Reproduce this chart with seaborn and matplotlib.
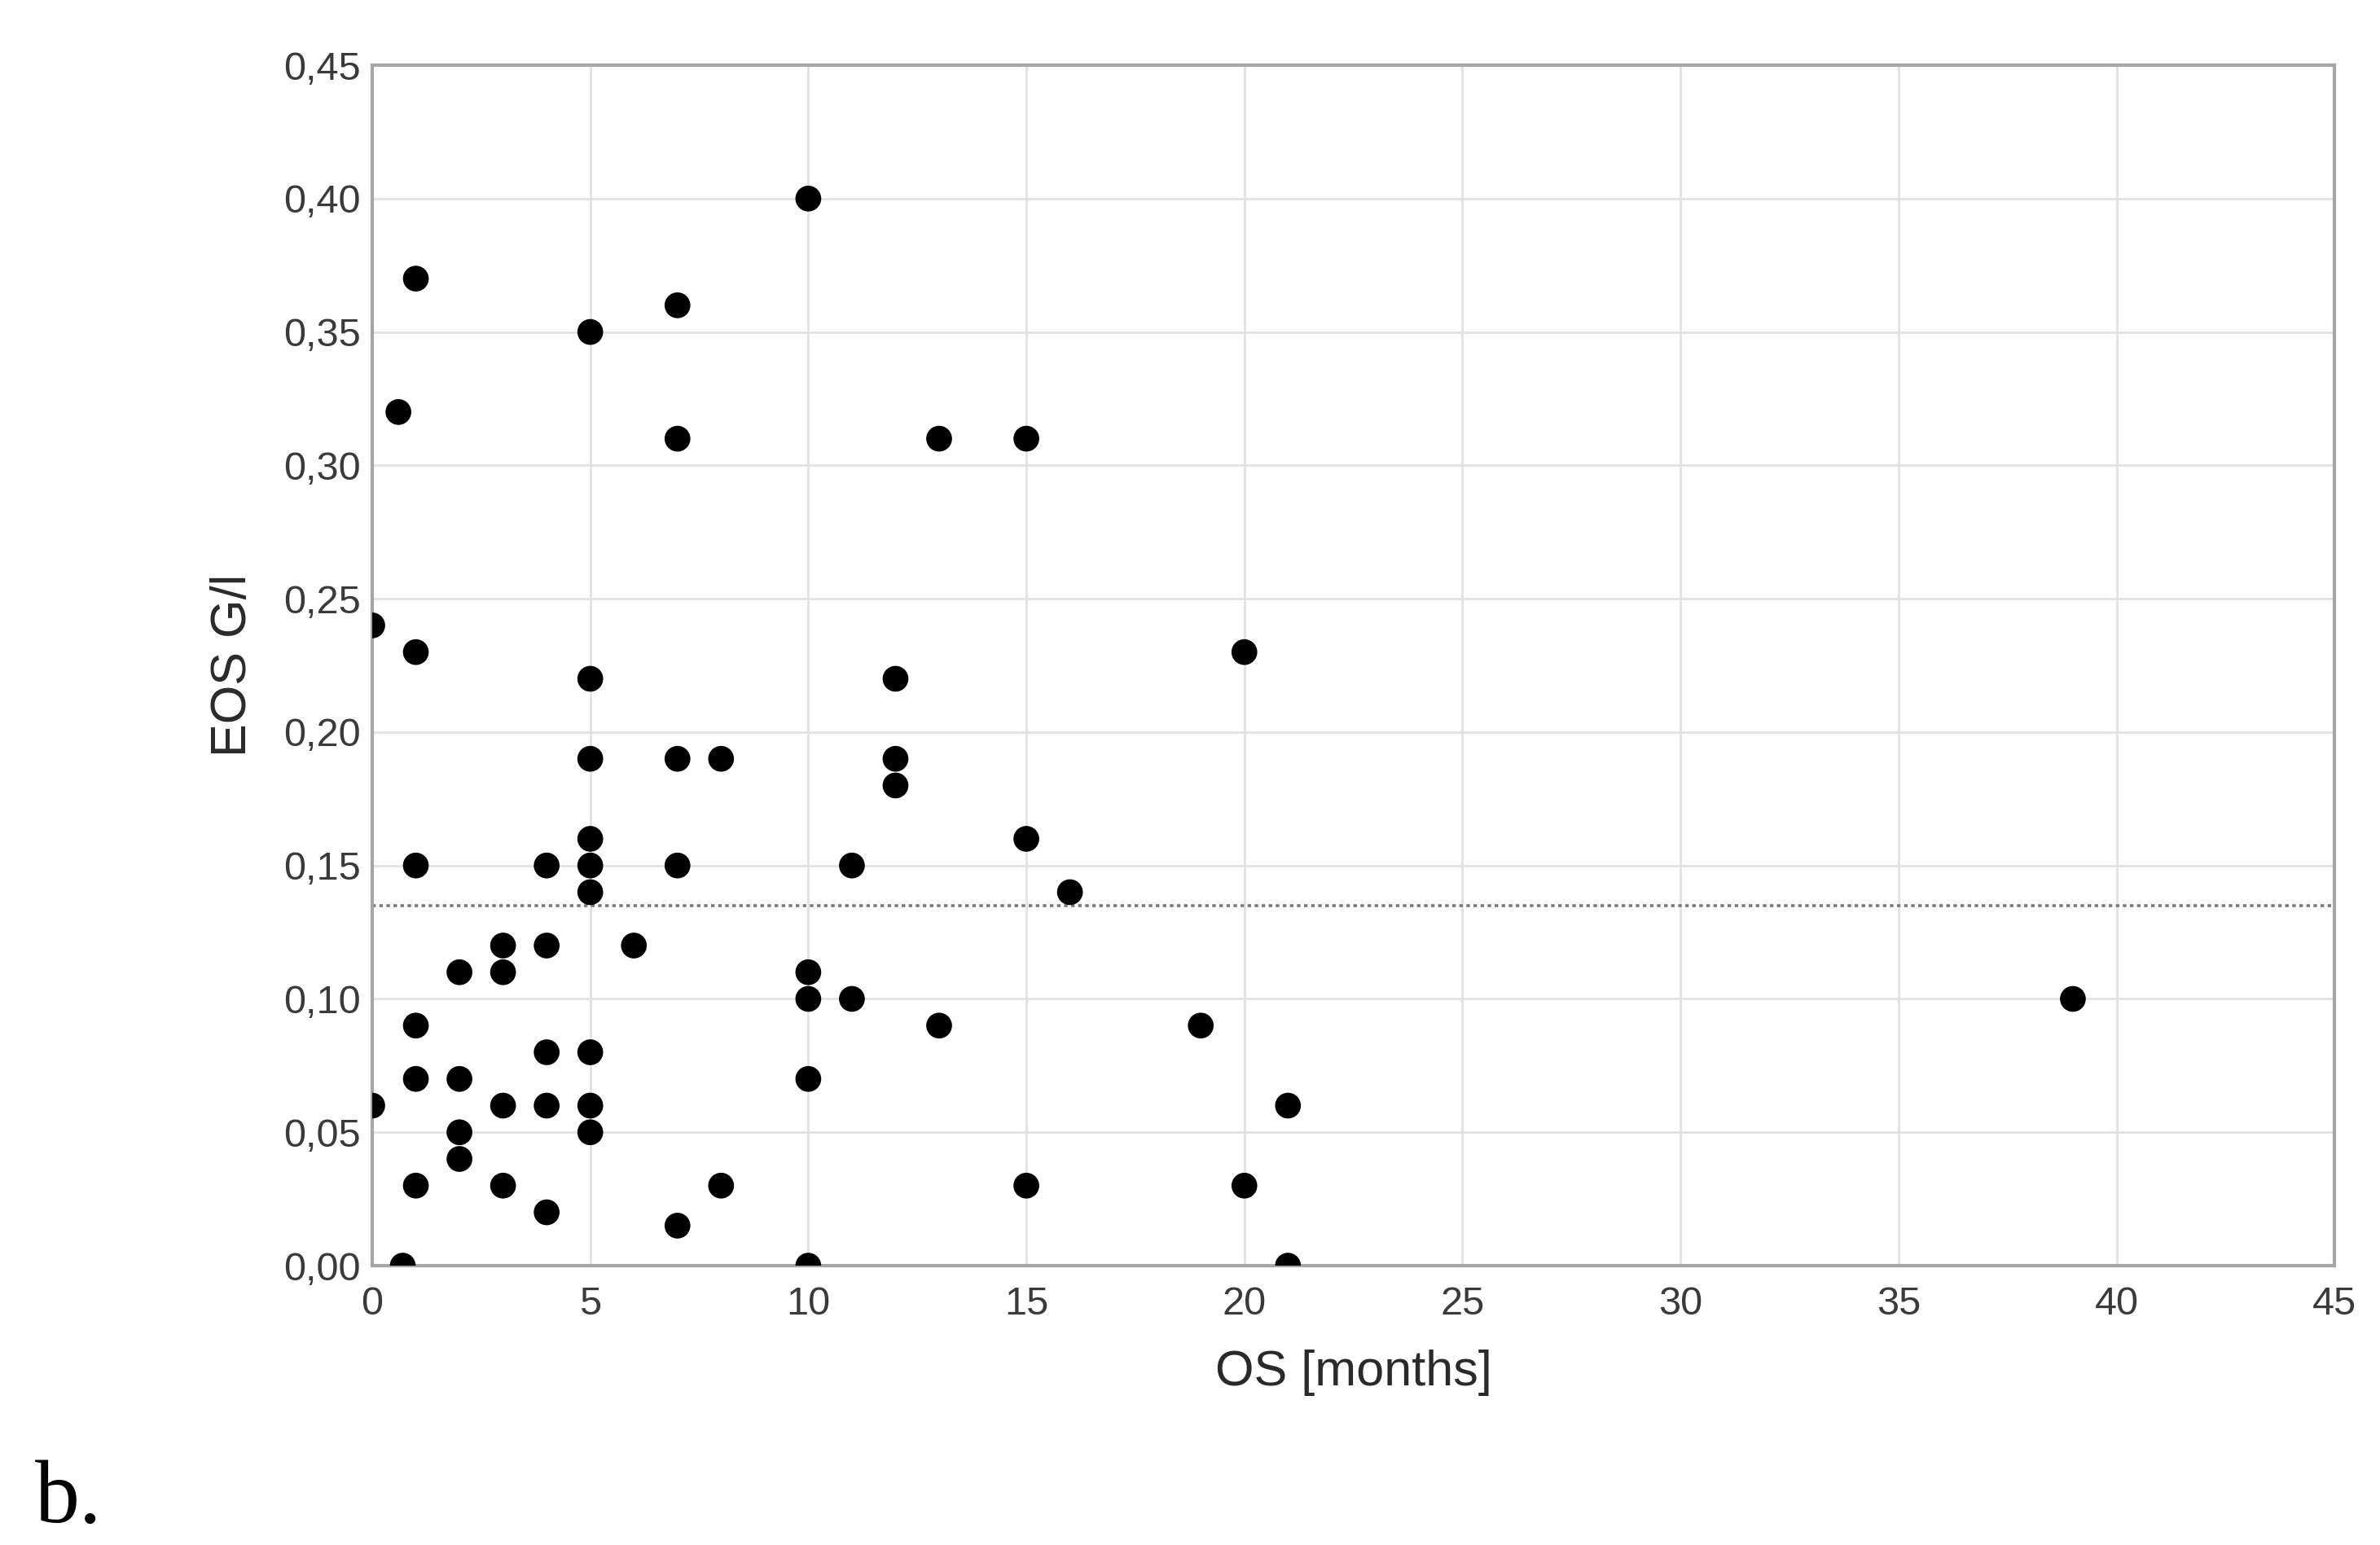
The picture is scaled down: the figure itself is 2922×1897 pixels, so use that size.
import matplotlib
matplotlib.use("Agg")
import matplotlib.pyplot as plt
import matplotlib.ticker as mticker
import seaborn as sns
import pandas as pd

# OS [months] and EOS G/l
os_months = [0, 0, 0.7, 0.6, 1, 1, 1, 1, 1, 1,
             2, 2, 2, 2,
             3, 3, 3, 3,
             4, 4, 4, 4, 4,
             5, 5, 5, 5, 5, 5, 5, 5, 5,
             6,
             7, 7, 7, 7, 7,
             8, 8,
             10, 10, 10, 10, 10,
             11, 11,
             12, 12, 12,
             13, 13,
             15, 15, 15,
             16, 19, 20, 20, 21, 21, 39]
eos = [0.24, 0.06, 0.00, 0.32, 0.37, 0.23, 0.15, 0.09, 0.07, 0.03,
       0.11, 0.07, 0.05, 0.04,
       0.12, 0.11, 0.06, 0.03,
       0.15, 0.12, 0.08, 0.06, 0.02,
       0.35, 0.22, 0.19, 0.16, 0.15, 0.14, 0.08, 0.06, 0.05,
       0.12,
       0.36, 0.31, 0.19, 0.15, 0.015,
       0.19, 0.03,
       0.40, 0.11, 0.10, 0.07, 0.00,
       0.15, 0.10,
       0.22, 0.19, 0.18,
       0.31, 0.09,
       0.31, 0.16, 0.03,
       0.14, 0.09, 0.23, 0.03, 0.06, 0.00, 0.10]
ref_level = 0.135

x_ticks = list(range(0, 46, 5))
y_ticks = [i * 0.05 for i in range(10)]

df = pd.DataFrame({"os": os_months, "eos": eos})

sns.set_theme(style="white")
plt.rcParams["font.family"] = ["Liberation Sans", "DejaVu Sans"]

fig = plt.figure(figsize=(29.22, 18.97), dpi=100)
ax = fig.add_axes([0.1564, 0.1808, 0.8245, 0.777])

ax.grid(True, which="major", color="#e2e2e2", linewidth=2.0, zorder=0)
ax.set_axisbelow(True)

sns.scatterplot(data=df, x="os", y="eos", ax=ax, color="black",
                s=520, edgecolor="none", linewidth=0, zorder=3)

ax.axhline(ref_level, color="#7a7a7a", linestyle=(0, (1.2, 1.2)),
           linewidth=2.6, zorder=2)

ax.set_xlim(0, 45)
ax.set_ylim(0, 0.45)
ax.set_xticks(x_ticks)
ax.set_yticks(y_ticks)
ax.yaxis.set_minor_locator(mticker.MultipleLocator(0.01))
ax.xaxis.set_minor_locator(mticker.MultipleLocator(1))
ax.yaxis.set_major_formatter(mticker.FuncFormatter(lambda v, p: f"{v:.2f}".replace(".", ",")))
ax.xaxis.set_major_formatter(mticker.FuncFormatter(lambda v, p: f"{int(round(v))}"))

for side, sp in ax.spines.items():
    sp.set_visible(True)
    sp.set_color("#a6a6a6")
    sp.set_linewidth(3)

ax.tick_params(axis="both", which="major", labelsize=35, colors="#3a3a3a",
               length=7, width=1.5, direction="in", pad=10)
ax.tick_params(axis="x", which="major", pad=18)
ax.tick_params(axis="both", which="minor", colors="#c8c8c8",
               length=4, width=1.2, direction="in")
for lbl in ax.get_xticklabels() + ax.get_yticklabels():
    lbl.set_color("#3a3a3a")

ax.set_xlabel("OS [months]", fontsize=44, color="#2a2a2a")
ax.set_ylabel("EOS G/l", fontsize=44, color="#2a2a2a")
ax.xaxis.set_label_coords(0.5, -0.07)
ax.yaxis.set_label_coords(-0.059, 0.5)

fig.text(0.0147, 0.015, "b.", fontsize=79, va="baseline",
         family=["Liberation Serif", "DejaVu Serif"], color="black")

fig.savefig("out.png", dpi=100, facecolor="white")
